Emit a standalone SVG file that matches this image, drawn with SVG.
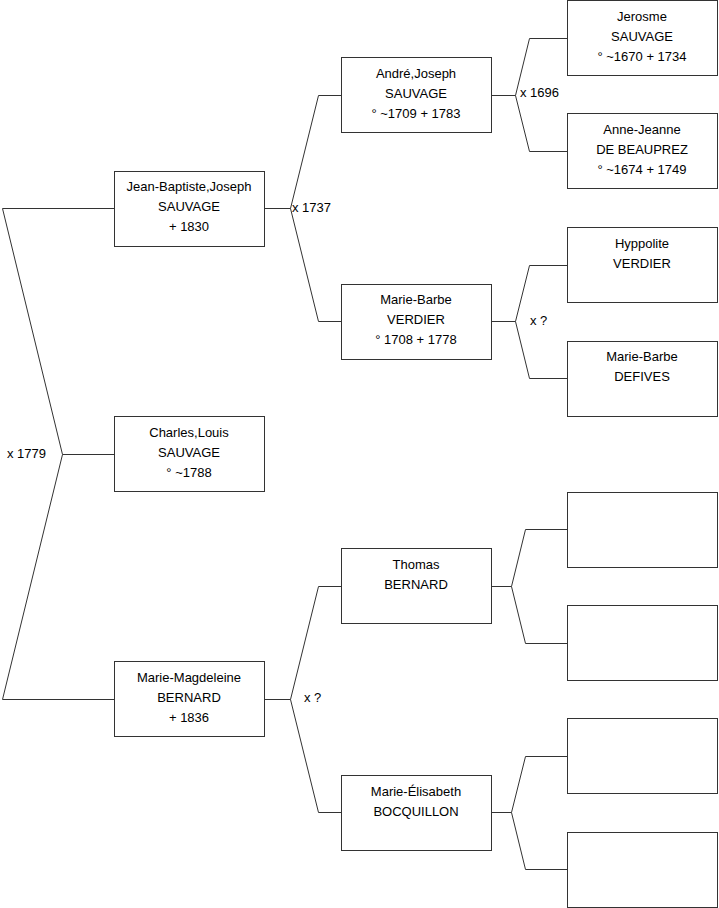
<svg xmlns="http://www.w3.org/2000/svg" width="719" height="908" viewBox="0 0 719 908">
<style>
.box{fill:#fff;stroke:#333;stroke-width:1}
.ln{fill:none;stroke:#333;stroke-width:1}
text{font-family:"Liberation Sans",Arial,sans-serif;font-size:13px;fill:#000}
.c{text-anchor:middle}
</style>
<rect width="719" height="908" fill="#fff"/>
<g id="connectors">
<polyline class="ln" points="114,208.5 2.5,208.5 62.5,454.5 2.5,699.5 114,699.5"/>
<line class="ln" x1="62.5" y1="454.5" x2="114" y2="454.5"/>
<text x="7" y="458">x 1779</text>
<polyline class="ln" points="341,95.5 318.5,95.5 290.5,208.5 318.5,321.5 341,321.5"/>
<line class="ln" x1="265" y1="208.5" x2="290.5" y2="208.5"/>
<text x="292" y="212">x 1737</text>
<polyline class="ln" points="341,586.5 318.5,586.5 290.5,699.5 318.5,812.5 341,812.5"/>
<line class="ln" x1="265" y1="699.5" x2="290.5" y2="699.5"/>
<text x="304" y="702">x ?</text>
<polyline class="ln" points="567,38.5 529.5,38.5 515.5,95.5 529.5,151.5 567,151.5"/>
<line class="ln" x1="492" y1="95.5" x2="515.5" y2="95.5"/>
<text x="520" y="97">x 1696</text>
<polyline class="ln" points="567,265.5 529.5,265.5 515.5,321.5 529.5,378.5 567,378.5"/>
<line class="ln" x1="492" y1="321.5" x2="515.5" y2="321.5"/>
<text x="530" y="325">x ?</text>
<polyline class="ln" points="567,529.5 525.5,529.5 511.5,586.5 525.5,643.5 567,643.5"/>
<line class="ln" x1="492" y1="586.5" x2="511.5" y2="586.5"/>
<polyline class="ln" points="567,756.5 525.5,756.5 511.5,812.5 525.5,869.5 567,869.5"/>
<line class="ln" x1="492" y1="812.5" x2="511.5" y2="812.5"/>
</g>
<g id="jean-baptiste">
<rect class="box" x="114.5" y="171.5" width="150" height="75"/>
<text class="c" x="189" y="191">Jean-Baptiste,Joseph</text>
<text class="c" x="189" y="211">SAUVAGE</text>
<text class="c" x="189" y="231">+ 1830</text>
</g>
<g id="charles-louis">
<rect class="box" x="114.5" y="416.5" width="150" height="75"/>
<text class="c" x="189" y="437">Charles,Louis</text>
<text class="c" x="189" y="457">SAUVAGE</text>
<text class="c" x="189" y="477">° ~1788</text>
</g>
<g id="marie-magdeleine">
<rect class="box" x="114.5" y="661.5" width="150" height="75"/>
<text class="c" x="189" y="682">Marie-Magdeleine</text>
<text class="c" x="189" y="702">BERNARD</text>
<text class="c" x="189" y="722">+ 1836</text>
</g>
<g id="andre-joseph">
<rect class="box" x="341.5" y="57.5" width="150" height="75"/>
<text class="c" x="416" y="78">André,Joseph</text>
<text class="c" x="416" y="98">SAUVAGE</text>
<text class="c" x="416" y="118">° ~1709 + 1783</text>
</g>
<g id="marie-barbe-verdier">
<rect class="box" x="341.5" y="284.5" width="150" height="75"/>
<text class="c" x="416" y="304">Marie-Barbe</text>
<text class="c" x="416" y="324">VERDIER</text>
<text class="c" x="416" y="344">° 1708 + 1778</text>
</g>
<g id="thomas-bernard">
<rect class="box" x="341.5" y="548.5" width="150" height="75"/>
<text class="c" x="416" y="569">Thomas</text>
<text class="c" x="416" y="589">BERNARD</text>
</g>
<g id="marie-elisabeth">
<rect class="box" x="341.5" y="775.5" width="150" height="75"/>
<text class="c" x="416" y="796">Marie-Élisabeth</text>
<text class="c" x="416" y="816">BOCQUILLON</text>
</g>
<g id="jerosme">
<rect class="box" x="567.5" y="0.5" width="150" height="75"/>
<text class="c" x="642" y="21">Jerosme</text>
<text class="c" x="642" y="41">SAUVAGE</text>
<text class="c" x="642" y="61">° ~1670 + 1734</text>
</g>
<g id="anne-jeanne">
<rect class="box" x="567.5" y="113.5" width="150" height="75"/>
<text class="c" x="642" y="134">Anne-Jeanne</text>
<text class="c" x="642" y="154">DE BEAUPREZ</text>
<text class="c" x="642" y="174">° ~1674 + 1749</text>
</g>
<g id="hyppolite">
<rect class="box" x="567.5" y="227.5" width="150" height="75"/>
<text class="c" x="642" y="248">Hyppolite</text>
<text class="c" x="642" y="268">VERDIER</text>
</g>
<g id="marie-barbe-defives">
<rect class="box" x="567.5" y="341.5" width="150" height="75"/>
<text class="c" x="642" y="361">Marie-Barbe</text>
<text class="c" x="642" y="381">DEFIVES</text>
</g>
<g id="empty-1"><rect class="box" x="567.5" y="492.5" width="150" height="75"/></g>
<g id="empty-2"><rect class="box" x="567.5" y="605.5" width="150" height="75"/></g>
<g id="empty-3"><rect class="box" x="567.5" y="718.5" width="150" height="75"/></g>
<g id="empty-4"><rect class="box" x="567.5" y="832.5" width="150" height="75"/></g>
</svg>
